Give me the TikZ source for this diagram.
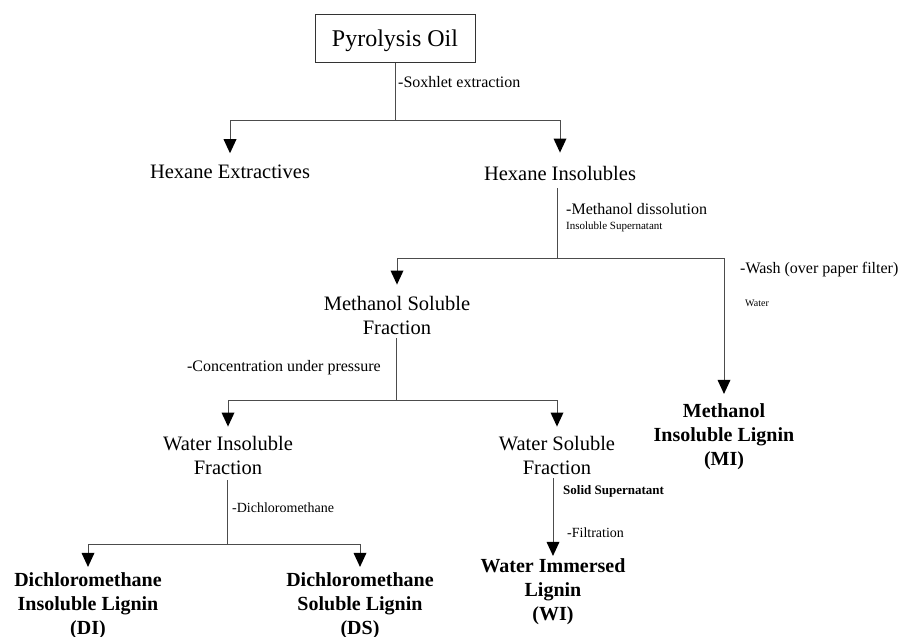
\documentclass[tikz,border=0pt]{standalone}
\usepackage{fontspec}
\setmainfont{Liberation Serif}
\usetikzlibrary{arrows.meta}
\begin{document}
\begin{tikzpicture}[x=1pt,y=-1pt,
  line/.style={draw=black!70, line width=1pt},
  arr/.style={line, -{Triangle[width=13pt,length=14pt,fill=black,line width=0pt]}},
  big/.style={font=\fontsize{20.5}{24}\selectfont, align=center, inner sep=0pt, anchor=base},
  res/.style={font=\fontsize{20}{24}\selectfont\bfseries, align=center, inner sep=0pt, anchor=base},
  lab/.style={font=\fontsize{16}{18}\selectfont, inner sep=0pt, anchor=base west},
  lsmall/.style={font=\fontsize{11}{13}\selectfont, inner sep=0pt, anchor=base west}]
\useasboundingbox (0,0) rectangle (903,637);
% nodes (multi-line nodes anchored at the baseline of their last line)
\node[draw=black!80, line width=1pt, minimum width=160pt, minimum height=48pt,
      font=\fontsize{24}{28}\selectfont, inner sep=0pt] (oil) at (395,38)
      {\makebox[0pt]{\raisebox{-8pt}[0pt][0pt]{Pyrolysis Oil}}};
\node[big] (hexe) at (230,178) {Hexane Extractives};
\node[big] (hexi) at (560,180) {Hexane Insolubles};
\node[big] (msf) at (397,334) {Methanol Soluble\\Fraction};
\node[res] (mi) at (724,465) {Methanol\\Insoluble Lignin\\(MI)};
\node[big] (wif) at (228,474) {Water Insoluble\\Fraction};
\node[big] (wsf) at (557,474) {Water Soluble\\Fraction};
\node[res] (di) at (88,634) {Dichloromethane\\Insoluble Lignin\\(DI)};
\node[res] (ds) at (360,634) {Dichloromethane\\Soluble Lignin\\(DS)};
\node[res] (wi) at (553,620) {Water Immersed\\Lignin\\(WI)};
% junctions
\coordinate (j1) at (395,120);
\coordinate (j2) at (557,258);
\coordinate (j3) at (396,400);
\coordinate (j4) at (227,544);
% labels
\node[lab] (l1) at (398,87) {-Soxhlet extraction};
\node[lab] (l2) at (566,214) {-Methanol dissolution};
\node[lsmall] (l3) at (566,229) {Insoluble Supernatant};
\node[lab] (l4) at (740,273) {-Wash (over paper filter)};
\node[font=\fontsize{10}{12}\selectfont, inner sep=0pt, anchor=base west] (l5) at (745,306) {Water};
\node[lab, anchor=base east] (l6) at (381,371) {-Concentration under pressure};
\node[font=\fontsize{14}{16}\selectfont, inner sep=0pt, anchor=base west] (l7) at (232,512) {-Dichloromethane};
\node[font=\fontsize{13}{15}\selectfont\bfseries, inner sep=0pt, anchor=base west] (l8) at (563,494) {Solid Supernatant};
\node[font=\fontsize{14}{16}\selectfont, inner sep=0pt, anchor=base west] (l9) at (567,537) {-Filtration};
% connectors
\draw[line] (oil.south) -- (j1);
\draw[arr, shorten >=11pt] (j1) -| (hexe.north);
\draw[arr, shorten >=13pt] (j1) -| (hexi.north);
\draw[line] ([yshift=-8pt]hexi.south -| j2) -- (j2);
\draw[arr, shorten >=11pt] (j2) -| (msf.north);
\draw[arr, shorten >=9pt] (j2) -| (mi.north);
\draw[line] ([yshift=-4pt]msf.south -| j3) -- (j3);
\draw[arr, shorten >=9pt] (j3) -| (wif.north);
\draw[arr, shorten >=9pt] (j3) -| (wsf.north);
\draw[line] ([yshift=-6pt]wif.south -| j4) -- (j4);
\draw[arr, shorten >=5pt] (j4) -| (di.north);
\draw[arr, shorten >=5pt] (j4) -| (ds.north);
\draw[arr, shorten >=2pt] ([yshift=-4pt]wsf.south -| wi.north) -- (wi.north);
\end{tikzpicture}
\end{document}
